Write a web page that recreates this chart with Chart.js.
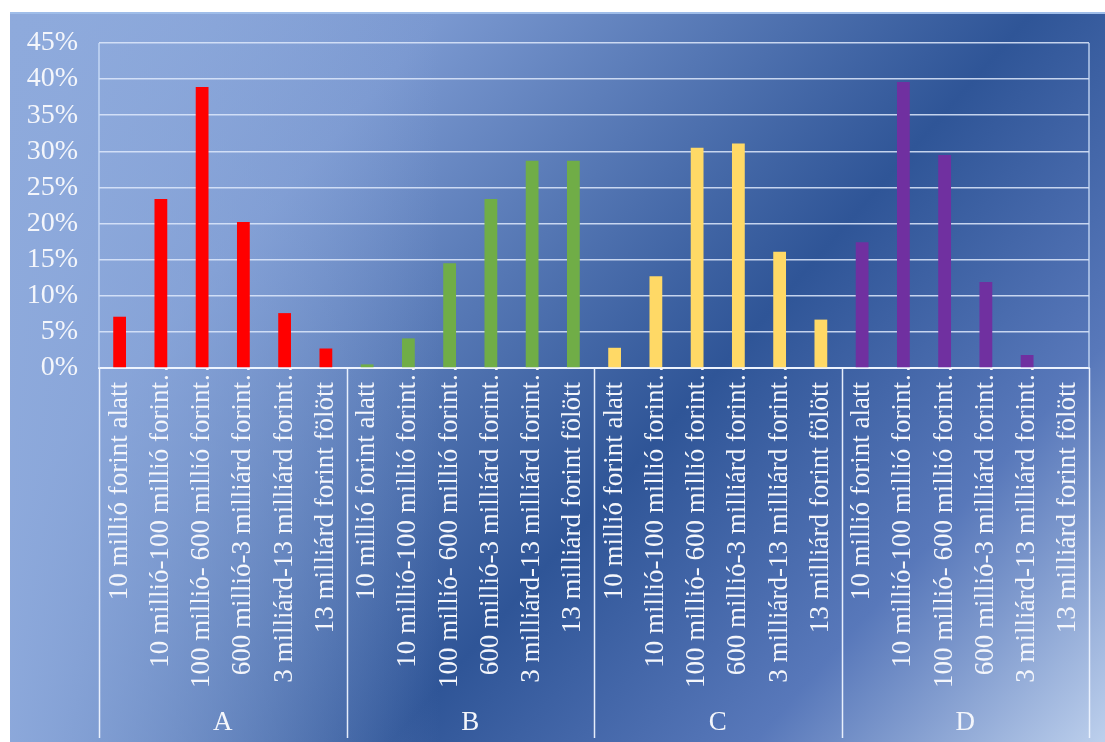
<!DOCTYPE html>
<html>
<head>
<meta charset="utf-8">
<script src="https://cdn.jsdelivr.net/npm/chart.js@4.4.1/dist/chart.umd.min.js"></script>
<style>
  html, body { margin: 0; padding: 0; background: #ffffff; }
  #wrap { width: 1105px; height: 742px; }
  canvas { display: block; }
</style>
</head>
<body>
<div id="wrap"><canvas id="chart" width="1105" height="742"></canvas></div>
<script>
// Company groups and the turnover bands shown inside each group
const groups = ['A', 'B', 'C', 'D'];
const sizeBands = [
  '10 millió forint alatt',
  '10 millió-100 millió forint…',
  '100 millió- 600 millió forint…',
  '600 millió-3 milliárd forint…',
  '3 milliárd-13 milliárd forint…',
  '13 milliárd forint fölött'
];

// Share of each band within its group (%)
const valuesA = [7.1, 23.4, 38.9, 20.2, 7.6, 2.7];
const valuesB = [0.5, 4.1, 14.5, 23.4, 28.7, 28.7];
const valuesC = [2.8, 12.7, 30.5, 31.1, 16.1, 6.7];
const valuesD = [17.4, 39.6, 29.5, 11.9, 1.8, 0];

const groupColors = ['#ff0000', '#70ad47', '#ffd966', '#7030a0'];
const yMax = 45;
const yStep = 5;

const groupValues = [valuesA, valuesB, valuesC, valuesD];
// every label ends in a one-em glyph so the visible words line up at the same edge
const bandLabels = sizeBands.map(s => s.endsWith('…') ? s : s + '\u2003');
const labels = [];
const data = [];
const colors = [];
groupValues.forEach((vals, g) => {
  vals.forEach((v, i) => {
    labels.push(bandLabels[i]);
    data.push(v);
    colors.push(groupColors[g]);
  });
});

const SERIF = "'Liberation Serif', 'Times New Roman', serif";
const TEXT = '#f4f6fb';

// Blue diagonal fill behind the whole chart
const backdrop = {
  id: 'backdrop',
  beforeDraw(chart) {
    const { ctx, width, height } = chart;
    const x0 = 10, y0 = 12, w = width - x0, h = height - y0;
    ctx.save();
    const len = 1303;
    const g = ctx.createLinearGradient(x0, y0, x0 + 0.75 * len, y0 + 0.66 * len);
    g.addColorStop(0, '#8eaadc');
    g.addColorStop(0.25, '#7a98d0');
    g.addColorStop(0.59, '#2f5597');
    g.addColorStop(0.8, '#5878ba');
    g.addColorStop(1, '#bccfec');
    ctx.fillStyle = g;
    ctx.fillRect(x0, y0, w, h);
    const side = ctx.createLinearGradient(x0, 0, 440, 0);
    side.addColorStop(0, 'rgba(142,170,220,0.95)');
    side.addColorStop(1, 'rgba(142,170,220,0)');
    ctx.fillStyle = side;
    ctx.fillRect(x0, y0, 430, h);
    ctx.fillStyle = '#9fbde9';
    ctx.fillRect(x0, y0, w, 2);
    ctx.restore();
  }
};

// Frame of the plot box and the dividers between the groups
const groupFrame = {
  id: 'groupFrame',
  afterDraw(chart) {
    const { ctx, chartArea } = chart;
    const xs = chart.scales.x;
    const half = (xs.getPixelForValue(1) - xs.getPixelForValue(0)) / 2;
    const per = sizeBands.length;
    const bottom = chart.height - 4;
    ctx.save();
    ctx.strokeStyle = 'rgba(205,222,248,0.85)';
    ctx.lineWidth = 1.5;
    ctx.beginPath();
    ctx.moveTo(chartArea.left, chartArea.top);
    ctx.lineTo(chartArea.left, chartArea.bottom);
    ctx.moveTo(chartArea.right, chartArea.top);
    ctx.lineTo(chartArea.right, chartArea.bottom);
    ctx.stroke();
    ctx.strokeStyle = 'rgba(238,244,255,0.95)';
    ctx.beginPath();
    for (let g = 0; g <= groups.length; g++) {
      const idx = g * per;
      const px = idx < labels.length ? xs.getPixelForValue(idx) - half
                                     : xs.getPixelForValue(labels.length - 1) + half;
      ctx.moveTo(Math.round(px) + 0.5, chartArea.bottom);
      ctx.lineTo(Math.round(px) + 0.5, bottom);
    }
    ctx.stroke();
    ctx.restore();
  }
};

new Chart(document.getElementById('chart'), {
  type: 'bar',
  data: {
    labels: labels,
    datasets: [{
      data: data,
      backgroundColor: colors,
      borderWidth: 0,
      categoryPercentage: 1,
      barPercentage: 0.31
    }]
  },
  options: {
    responsive: false,
    devicePixelRatio: 1,
    animation: false,
    events: [],
    layout: { padding: { left: 10, top: 43, right: 16, bottom: 0 } },
    plugins: {
      legend: { display: false },
      tooltip: { enabled: false },
      title: { display: false }
    },
    scales: {
      y: {
        min: 0,
        max: yMax,
        ticks: {
          stepSize: yStep,
          autoSkip: false,
          padding: 21,
          color: TEXT,
          font: { family: SERIF, size: 28 },
          callback: v => v + '%'
        },
        grid: {
          color: 'rgba(222,233,252,0.85)',
          lineWidth: 1.5,
          drawTicks: false
        },
        border: { display: false },
        afterFit(scale) { scale.width = 89; }
      },
      x: {
        position: 'bottom',
        ticks: {
          autoSkip: false,
          minRotation: 90,
          maxRotation: 90,
          padding: -13,
          color: TEXT,
          font: { family: SERIF, size: 27 }
        },
        grid: { display: false, drawTicks: false },
        border: { display: true, color: 'rgba(240,245,255,0.95)', width: 2 },
        afterFit(scale) { scale.height = 330; }
      },
      x2: {
        type: 'category',
        position: 'bottom',
        labels: groups,
        offset: true,
        ticks: {
          padding: 9,
          color: TEXT,
          font: { family: SERIF, size: 27 }
        },
        grid: { display: false, drawTicks: false },
        border: { display: false },
        afterFit(scale) { scale.height = 44; }
      }
    }
  },
  plugins: [backdrop, groupFrame]
});
</script>
</body>
</html>
